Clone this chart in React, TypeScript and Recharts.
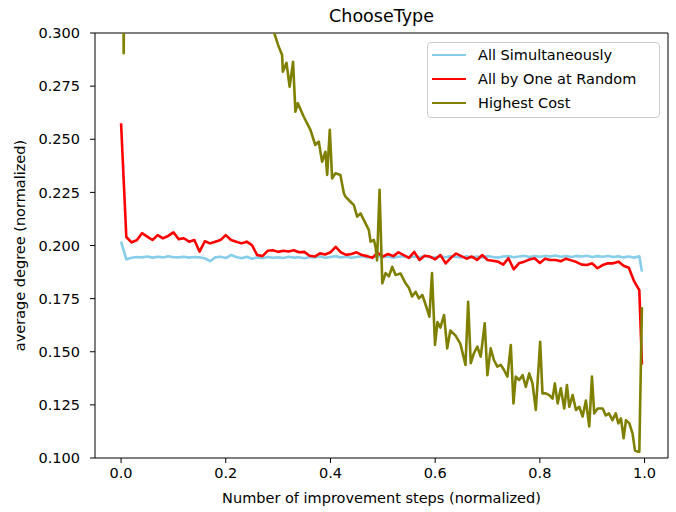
import { Legend, Line, LineChart, ReferenceLine, XAxis, YAxis } from "recharts";

const FONT = "'DejaVu Sans', sans-serif";

// x grid shared by the two flat series (normalized steps)
const stepX = [...Array.from({ length: 100 }, (_, i) => i / 100), 0.995];

const allSimultaneously = [
  0.2018, 0.1935, 0.1942, 0.1946, 0.1944, 0.1948, 0.1943, 0.1947, 0.1944, 0.1949,
  0.1945, 0.1944, 0.1947, 0.1943, 0.1946, 0.1944, 0.194, 0.1926, 0.1944, 0.1947,
  0.1941, 0.1955, 0.1946, 0.194, 0.1947, 0.1938, 0.1944, 0.194, 0.1946, 0.1942,
  0.1945, 0.1941, 0.1947, 0.1943, 0.1945, 0.194, 0.1946, 0.1944, 0.1948, 0.1942,
  0.1946, 0.195, 0.1944, 0.1947, 0.1942, 0.1946, 0.1949, 0.1944, 0.1946, 0.1951,
  0.1945, 0.1948, 0.1943, 0.1947, 0.195, 0.1944, 0.1948, 0.1945, 0.195, 0.1946,
  0.1943, 0.1948, 0.1945, 0.195, 0.1946, 0.1944, 0.1949, 0.1945, 0.1948, 0.1944,
  0.195, 0.1946, 0.1943, 0.1948, 0.195, 0.1945, 0.1948, 0.1952, 0.1946, 0.195,
  0.1947, 0.1951, 0.1948, 0.1953, 0.1947, 0.195, 0.1946, 0.1951, 0.1948, 0.1952,
  0.1946, 0.195, 0.1947, 0.1951, 0.1946, 0.1949, 0.1944, 0.1948, 0.1943, 0.1949,
  0.1877,
];

const allByOneAtRandom = [
  0.2575, 0.204, 0.2015, 0.2025, 0.2058, 0.2042, 0.2026, 0.2049, 0.2034, 0.2045,
  0.2062, 0.203, 0.2034, 0.2018, 0.2026, 0.1971, 0.202, 0.201, 0.2018, 0.2026,
  0.2049, 0.2026, 0.2018, 0.201, 0.2018, 0.2002, 0.1955, 0.195, 0.1975, 0.1978,
  0.197, 0.1975, 0.1972, 0.1978, 0.1968, 0.197, 0.1952, 0.1948, 0.1963, 0.1958,
  0.1968, 0.1994, 0.1968, 0.1956, 0.196, 0.1968, 0.1955, 0.195, 0.1942, 0.1966,
  0.1948, 0.196, 0.195, 0.1968, 0.1955, 0.1942, 0.197, 0.1932, 0.1952, 0.1948,
  0.1935, 0.1955, 0.1916, 0.1942, 0.1962, 0.195, 0.1938, 0.1948, 0.1932, 0.1955,
  0.1932, 0.1928, 0.1924, 0.191, 0.194, 0.1888, 0.1916, 0.1924, 0.1934, 0.194,
  0.1918, 0.1938, 0.1932, 0.1932, 0.1926, 0.1938, 0.193, 0.1922, 0.191, 0.1908,
  0.1916, 0.1893, 0.1908, 0.1916, 0.1916, 0.1924, 0.1905, 0.1895, 0.1832, 0.179,
  0.144,
];

// highest cost is sampled irregularly so the one-step spikes stay narrow
const highestCostX = [
  0, 0.005, 0.01, 0.05, 0.1, 0.15, 0.2, 0.25, 0.28, 0.29,
  0.301, 0.3076, 0.309, 0.316, 0.322, 0.3286, 0.333, 0.3375, 0.349, 0.3617,
  0.371, 0.3776, 0.384, 0.3904, 0.3937, 0.3987, 0.4032, 0.4096, 0.419, 0.4256,
  0.4287, 0.435, 0.4447, 0.451, 0.4574, 0.467, 0.4733, 0.4766, 0.483, 0.486,
  0.489, 0.4938, 0.499, 0.5053, 0.5117, 0.518, 0.5244, 0.534, 0.5435, 0.55,
  0.556, 0.5627, 0.569, 0.5755, 0.582, 0.589, 0.594, 0.5997, 0.6045, 0.61,
  0.617, 0.623, 0.629, 0.639, 0.648, 0.658, 0.663, 0.668, 0.674, 0.6806,
  0.687, 0.6947, 0.6998, 0.706, 0.7124, 0.7188, 0.7254, 0.7315, 0.738, 0.7445,
  0.7496, 0.754, 0.7605, 0.767, 0.7732, 0.7797, 0.786, 0.7923, 0.8006, 0.805,
  0.8115, 0.8179, 0.8243, 0.8287, 0.834, 0.84, 0.8466, 0.8517, 0.8562, 0.8626,
  0.869, 0.8753, 0.8817, 0.888, 0.8944, 0.8995, 0.9039, 0.9104, 0.92, 0.926,
  0.932, 0.9387, 0.945, 0.95, 0.955, 0.96, 0.9645, 0.971, 0.977, 0.9818,
  0.987, 0.99, 0.995,
];

const highestCost = [
  0.5, 0.2905, 0.45, 0.42, 0.4, 0.37, 0.35, 0.33, 0.31, 0.302,
  0.2936, 0.2896, 0.2818, 0.286, 0.2747, 0.2865, 0.263, 0.267, 0.2606, 0.2544,
  0.2473, 0.2489, 0.2394, 0.2441, 0.2332, 0.2544, 0.2316, 0.234, 0.2332, 0.2246,
  0.223, 0.2214, 0.219, 0.2136, 0.2151, 0.2104, 0.2073, 0.2018, 0.2026, 0.1994,
  0.193, 0.2262, 0.1822, 0.187, 0.1855, 0.19, 0.1861, 0.1868, 0.1822, 0.18,
  0.176, 0.1782, 0.1751, 0.1767, 0.172, 0.1665, 0.187, 0.1532, 0.164, 0.1614,
  0.1673, 0.1516, 0.16, 0.1576, 0.1538, 0.1438, 0.1735, 0.1446, 0.1493, 0.1524,
  0.1477, 0.1634, 0.139, 0.1516, 0.146, 0.143, 0.1438, 0.1414, 0.1383, 0.1532,
  0.1257, 0.1383, 0.1367, 0.139, 0.1335, 0.1398, 0.1351, 0.1226, 0.1547, 0.1304,
  0.1304, 0.1296, 0.128, 0.1351, 0.1257, 0.1328, 0.1233, 0.1343, 0.1241, 0.1296,
  0.1226, 0.1241, 0.1195, 0.127, 0.1148, 0.1383, 0.121, 0.1233, 0.1233, 0.12,
  0.121, 0.1178, 0.121, 0.1163, 0.1186, 0.1093, 0.1178, 0.1163, 0.1116, 0.1035,
  0.103, 0.103, 0.171,
];

const X_DOMAIN = [-0.0498, 1.0448];
const Y_DOMAIN = [0.1, 0.3];
const xTicks = [0, 0.2, 0.4, 0.6, 0.8, 1.0];
const yTicks = [0.1, 0.125, 0.15, 0.175, 0.2, 0.225, 0.25, 0.275, 0.3];

const simultaneousData = stepX.map((x, i) => ({ x, y: allSimultaneously[i] }));
const randomData = stepX.map((x, i) => ({ x, y: allByOneAtRandom[i] }));
const highestCostData = highestCostX.map((x, i) => ({ x, y: highestCost[i] }));

const tickStyle = { fill: "#000", fontSize: 14.5, fontFamily: FONT };

function LegendBox({ payload }: { payload?: any[] }) {
  return (
    <div
      style={{
        boxSizing: "border-box",
        width: 233,
        height: 76,
        border: "1px solid #cccccc",
        borderRadius: 4,
        background: "rgba(255,255,255,0.8)",
        fontFamily: FONT,
        fontSize: 14.5,
        color: "#000",
      }}
    >
      {(payload ?? []).map((p) => (
        <div
          key={p.value}
          style={{ height: 24, display: "flex", alignItems: "center" }}
        >
          <span
            style={{
              display: "inline-block",
              marginLeft: 4,
              width: 34,
              height: 2.6,
              background: p.color,
            }}
          />
          <span style={{ marginLeft: 12 }}>{p.value}</span>
        </div>
      ))}
    </div>
  );
}

export default function App() {
  return (
    <div style={{ position: "absolute", left: 0, top: 0, fontFamily: FONT }}>
      <LineChart
        width={676}
        height={512}
        margin={{ top: 33, right: 8, bottom: 0, left: 0 }}
      >
        <XAxis
          dataKey="x"
          type="number"
          domain={X_DOMAIN}
          allowDataOverflow
          ticks={xTicks}
          tickFormatter={(v: number) => v.toFixed(1)}
          tick={tickStyle}
          tickLine={{ stroke: "#000" }}
          axisLine={{ stroke: "#000" }}
          tickSize={5}
          tickMargin={5}
          height={54}
          label={{
            value: "Number of improvement steps (normalized)",
            position: "insideBottom",
            offset: 9,
            style: { fill: "#000", fontSize: 14.5, fontFamily: FONT },
          }}
        />
        <YAxis
          type="number"
          domain={Y_DOMAIN}
          allowDataOverflow
          ticks={yTicks}
          tickFormatter={(v: number) => v.toFixed(3)}
          tick={tickStyle}
          tickLine={{ stroke: "#000" }}
          axisLine={{ stroke: "#000" }}
          tickSize={5}
          tickMargin={10}
          width={95}
          label={{
            value: "average degree (normalized)",
            angle: -90,
            position: "insideLeft",
            offset: 20,
            style: {
              fill: "#000",
              fontSize: 14.5,
              fontFamily: FONT,
              textAnchor: "middle",
            },
          }}
        />
        {/* top and right spines, title sits on the top one */}
        <ReferenceLine
          y={Y_DOMAIN[1]}
          stroke="#000"
          strokeWidth={1}
          label={{
            value: "ChooseType",
            position: "top",
            offset: 11,
            style: { fill: "#000", fontSize: 17.5, fontFamily: FONT },
          }}
        />
        <ReferenceLine x={X_DOMAIN[1]} stroke="#000" strokeWidth={1} />
        <Legend
          layout="horizontal"
          verticalAlign="middle"
          content={<LegendBox />}
          wrapperStyle={{ left: 427, top: 42, width: 233, height: 76 }}
        />
        <Line
          data={simultaneousData}
          dataKey="y"
          name="All Simultaneously"
          stroke="#87ceeb"
          strokeWidth={2.6}
          strokeLinejoin="round"
          dot={false}
          isAnimationActive={false}
        />
        <Line
          data={randomData}
          dataKey="y"
          name="All by One at Random"
          stroke="#ff0000"
          strokeWidth={2.6}
          strokeLinejoin="round"
          dot={false}
          isAnimationActive={false}
        />
        <Line
          data={highestCostData}
          dataKey="y"
          name="Highest Cost"
          stroke="#808000"
          strokeWidth={2.6}
          strokeLinejoin="round"
          dot={false}
          isAnimationActive={false}
        />
      </LineChart>
    </div>
  );
}
